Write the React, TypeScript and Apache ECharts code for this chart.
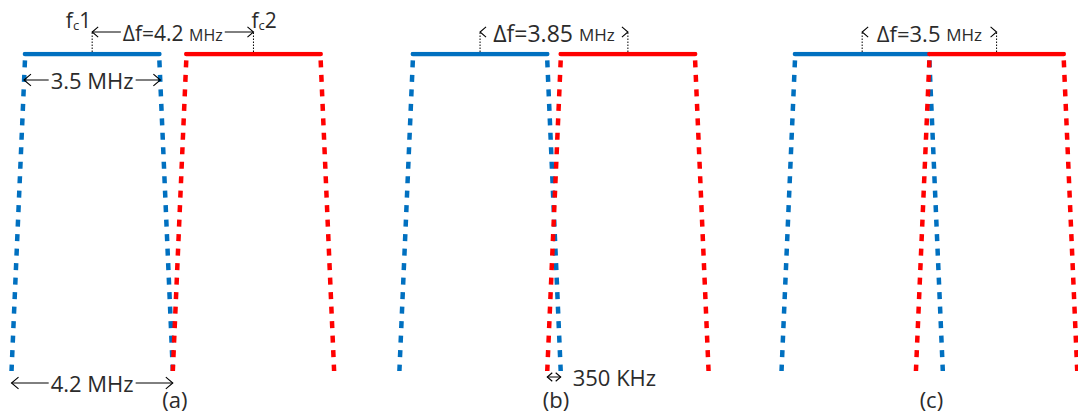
import React, { useEffect, useRef } from "react";
import * as echarts from "echarts";

// ---- data (frequencies in MHz) ----
const panelLabels = ["(a)", "(b)", "(c)"];
const channel1Centre = [2.4, 12.5, 22.45]; // fc1 position of each panel on the frequency axis
const deltaF = [4.2, 3.85, 3.5]; // channel spacing Δf per panel
const deltaLabels = ["Δf=4.2 ", "Δf=3.85 ", "Δf=3.5 "];
const passbandWidth = 3.5; // top of the trapezoid
const fullbandWidth = 4.2; // bottom of the trapezoid
const levelTop = 1;
const levelSideStart = 0.98;
const levelBottom = 0;
const xRange = [0, 28.07];
const gapLabel = "350 KHz";
const passbandLabel = "3.5 MHz";
const fullbandLabel = "4.2 MHz";

const BLUE = "#0070C0";
const RED = "#FF0000";
const FONT = "'Open Sans', 'Noto Sans', sans-serif";
const INK = "#2b2b2b";

export default function App() {
  const ref = useRef<HTMLDivElement>(null);

  useEffect(() => {
    document.body.style.margin = "0";
    const chart = echarts.init(ref.current!, null, { renderer: "svg" });

    const series: any[] = [];
    const seg = (data: number[][], color: string, dashed: boolean) => ({
      type: "line",
      data,
      symbol: "none",
      showSymbol: false,
      silent: true,
      z: 2,
      lineStyle: dashed
        ? { color, width: 4.5, type: [7, 7.5], cap: "butt" }
        : { color, width: 4.5, type: "solid", cap: "round" },
    });

    channel1Centre.forEach((c1, i) => {
      const chans = [
        { centre: c1, color: BLUE },
        { centre: c1 + deltaF[i], color: RED },
      ];
      chans.forEach((ch) => {
        series.push(
          seg(
            [
              [ch.centre - passbandWidth / 2, levelSideStart],
              [ch.centre - fullbandWidth / 2, levelBottom],
            ],
            ch.color,
            true
          )
        );
        series.push(
          seg(
            [
              [ch.centre + passbandWidth / 2, levelSideStart],
              [ch.centre + fullbandWidth / 2, levelBottom],
            ],
            ch.color,
            true
          )
        );
        series.push(
          seg(
            [
              [ch.centre - passbandWidth / 2, levelTop],
              [ch.centre + passbandWidth / 2, levelTop],
            ],
            ch.color,
            false
          )
        );
      });
    });

    chart.setOption({
      animation: false,
      grid: { left: 0, right: 0, top: 54, bottom: 43, containLabel: false },
      xAxis: { type: "value", min: xRange[0], max: xRange[1], show: false },
      yAxis: { type: "value", min: 0, max: 1, show: false },
      series,
    });

    const px = (x: number, y: number) =>
      chart.convertToPixel({ xAxisIndex: 0, yAxisIndex: 0 }, [x, y]) as number[];
    const yTop = px(0, levelTop)[1];
    const yBot = px(0, levelBottom)[1];

    const g: any[] = [];
    const line = (x1: number, y1: number, x2: number, y2: number, dotted = false) =>
      g.push({
        type: "line",
        z: 10,
        shape: { x1, y1, x2, y2 },
        style: { stroke: "#000", lineWidth: 1, lineDash: dotted ? [1.5, 1.5] : null },
      });
    const head = (x: number, y: number, dir: number, s = 6) =>
      g.push({
        type: "polyline",
        z: 12,
        shape: {
          points: [
            [x - dir * s, y - s * 0.85],
            [x, y],
            [x - dir * s, y + s * 0.85],
          ],
        },
        style: { stroke: "#000", lineWidth: 1.1, fill: null },
      });
    const text = (
      x: number,
      y: number,
      t: string,
      size: number,
      align = "center",
      bg = false,
      rich?: any
    ) =>
      g.push({
        type: "text",
        z: 11,
        x,
        y,
        style: {
          text: t,
          fill: INK,
          fontSize: size,
          fontFamily: FONT,
          align,
          verticalAlign: "middle",
          backgroundColor: bg ? "#fff" : "transparent",
          padding: bg ? [0, 2] : 0,
          rich,
        },
      });

    const deltaSizes = [21, 23, 22];
    const arrowY = yTop - 22;
    channel1Centre.forEach((c1, i) => {
      const x1 = px(c1, levelTop)[0];
      const x2 = px(c1 + deltaF[i], levelTop)[0];
      line(x1, yTop - 2, x1, arrowY, true);
      line(x2, yTop - 2, x2, arrowY, true);
      if (i === 0) line(x1, arrowY, x2, arrowY);
      const fs = deltaSizes[i];
      text((x1 + x2) / 2, arrowY + 1, `{a|${deltaLabels[i]}}{b|MHz}`, fs, "center", true, {
        a: { fontSize: fs, fontFamily: FONT, fill: INK, lineHeight: 24 },
        b: { fontSize: Math.round(fs * 0.75), fontFamily: FONT, fill: INK, lineHeight: 24, padding: [3, 0, 0, 0] },
      });
      head(x1, arrowY, -1);
      head(x2, arrowY, 1);

      // panel label
      const redLeftBottom = px(c1 + deltaF[i] - fullbandWidth / 2, levelBottom)[0];
      const blueRightBottom = px(c1 + fullbandWidth / 2, levelBottom)[0];
      text((redLeftBottom + blueRightBottom) / 2 + 2, yBot + 28, panelLabels[i], 22);

      if (i === 0) {
        const fcRich = {
          f: { fontSize: 21, fontFamily: FONT, fill: INK, lineHeight: 26 },
          c: { fontSize: 13, fontFamily: FONT, fill: INK, lineHeight: 26, padding: [10, 0, 0, 0] },
        };
        text(x1 - 1, arrowY - 12, "{f|f}{c|c}{f|1}", 21, "right", false, fcRich);
        text(x2 - 2, arrowY - 12, "{f|f}{c|c}{f|2}", 21, "left", false, fcRich);

        // passband arrow
        const yPb = yTop + 26;
        const pl = px(c1 - passbandWidth / 2, levelTop)[0] - 1;
        const pr = px(c1 + passbandWidth / 2, levelTop)[0] + 1;
        line(pl, yPb, pr, yPb);
        text((pl + pr) / 2, yPb, passbandLabel, 22, "center", true);
        head(pl, yPb, -1, 7);
        head(pr, yPb, 1, 7);

        // full band arrow
        const yFb = yBot + 12;
        const fl = px(c1 - fullbandWidth / 2, levelBottom)[0];
        const fr = px(c1 + fullbandWidth / 2, levelBottom)[0];
        line(fl, yFb, fr, yFb);
        text((fl + fr) / 2, yFb, fullbandLabel, 22, "center", true);
        head(fl, yFb, -1, 7);
        head(fr, yFb, 1, 7);
      }
      if (i === 1) {
        const yG = yBot + 6;
        const gl = px(c1 + deltaF[i] - fullbandWidth / 2, levelBottom)[0];
        const gr = px(c1 + fullbandWidth / 2, levelBottom)[0];
        line(gl, yG, gr, yG);
        head(gl, yG, -1, 5);
        head(gr, yG, 1, 5);
        text(gr + 12, yG, gapLabel, 22, "left");
      }
    });

    chart.setOption({ graphic: g });

    return () => chart.dispose();
  }, []);

  return <div ref={ref} style={{ width: 1078, height: 414 }} />;
}
